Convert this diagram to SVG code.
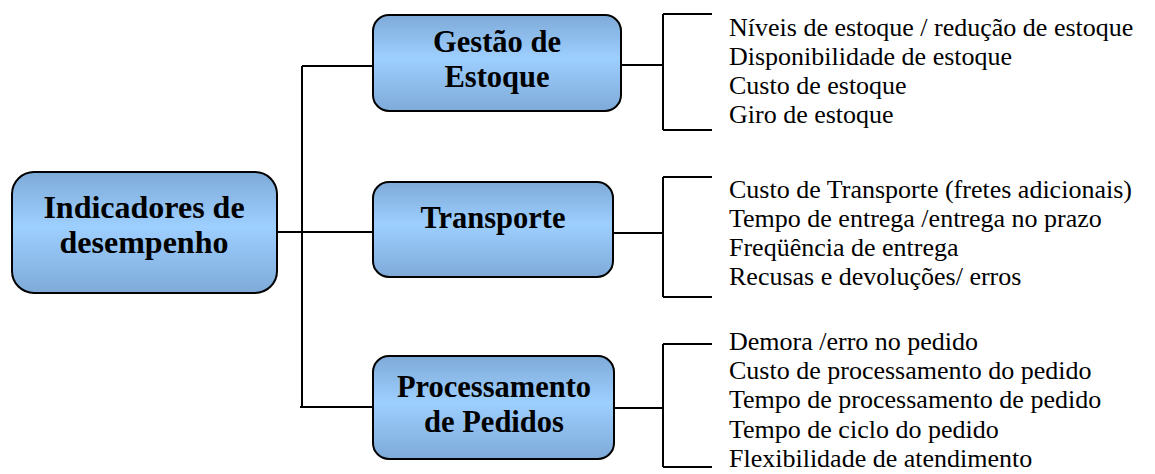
<svg xmlns="http://www.w3.org/2000/svg" width="1155" height="474" viewBox="0 0 1155 474">
<defs>
<linearGradient id="g" x1="0" y1="0" x2="0" y2="1">
<stop offset="0" stop-color="#7eaad8"/>
<stop offset="0.45" stop-color="#9dcfff"/>
<stop offset="1" stop-color="#7eaad8"/>
</linearGradient>
</defs>
<style>
.box{fill:url(#g);stroke:#000;stroke-width:2}
.t{font-weight:bold;font-size:32px;text-anchor:middle;fill:#000}
.s{font-weight:bold;font-size:30.5px;text-anchor:middle;fill:#000}
.i{font-size:26px;fill:#000}
.c{stroke:#000;stroke-width:2;fill:none}
</style>
<g id="connectors">
<path class="c" d="M277 232 H302 M302 66 V407 M302 66 H373 M302 232 H373 M300 407 H373"/>
<path class="c" d="M621 65 H663 M663 14 V130 M663 14 H712 M663 130 H712"/>
<path class="c" d="M613 233 H663 M663 177 V297 M663 177 H712 M663 297 H712"/>
<path class="c" d="M614 408 H663 M663 344 V467 M663 344 H712 M663 467 H712"/>
</g>
<g font-family="Liberation Serif, Times New Roman, serif">
<g id="indicadores">
<rect class="box" x="12" y="172" width="265" height="121" rx="22"/>
<text class="t" x="144" y="218">Indicadores de</text>
<text class="t" x="144" y="253">desempenho</text>
</g>
<g id="gestao">
<rect class="box" x="373" y="15" width="248" height="96" rx="16"/>
<text class="s" x="497" y="52">Gestão de</text>
<text class="s" x="497" y="87">Estoque</text>
</g>
<g id="transporte">
<rect class="box" x="373" y="182" width="240" height="95" rx="16"/>
<text class="s" x="493" y="228" font-size="32">Transporte</text>
</g>
<g id="processamento">
<rect class="box" x="373" y="356" width="241" height="103" rx="16"/>
<text class="s" x="494" y="397" font-size="29">Processamento</text>
<text class="s" x="494" y="432" font-size="29">de Pedidos</text>
</g>
<g id="gestao-itens">
<text class="i" x="729" y="36">Níveis de estoque / redução de estoque</text>
<text class="i" x="729" y="65">Disponibilidade de estoque</text>
<text class="i" x="729" y="94">Custo de estoque</text>
<text class="i" x="729" y="123">Giro de estoque</text>
</g>
<g id="transporte-itens">
<text class="i" x="729" y="198">Custo de Transporte (fretes adicionais)</text>
<text class="i" x="729" y="227">Tempo de entrega /entrega no prazo</text>
<text class="i" x="729" y="256">Freqüência de entrega</text>
<text class="i" x="729" y="285">Recusas e devoluções/ erros</text>
</g>
<g id="processamento-itens">
<text class="i" x="729" y="350">Demora /erro no pedido</text>
<text class="i" x="729" y="379">Custo de processamento do pedido</text>
<text class="i" x="729" y="408">Tempo de processamento de pedido</text>
<text class="i" x="729" y="438">Tempo de ciclo do pedido</text>
<text class="i" x="729" y="467">Flexibilidade de atendimento</text>
</g>
</g>
</svg>
